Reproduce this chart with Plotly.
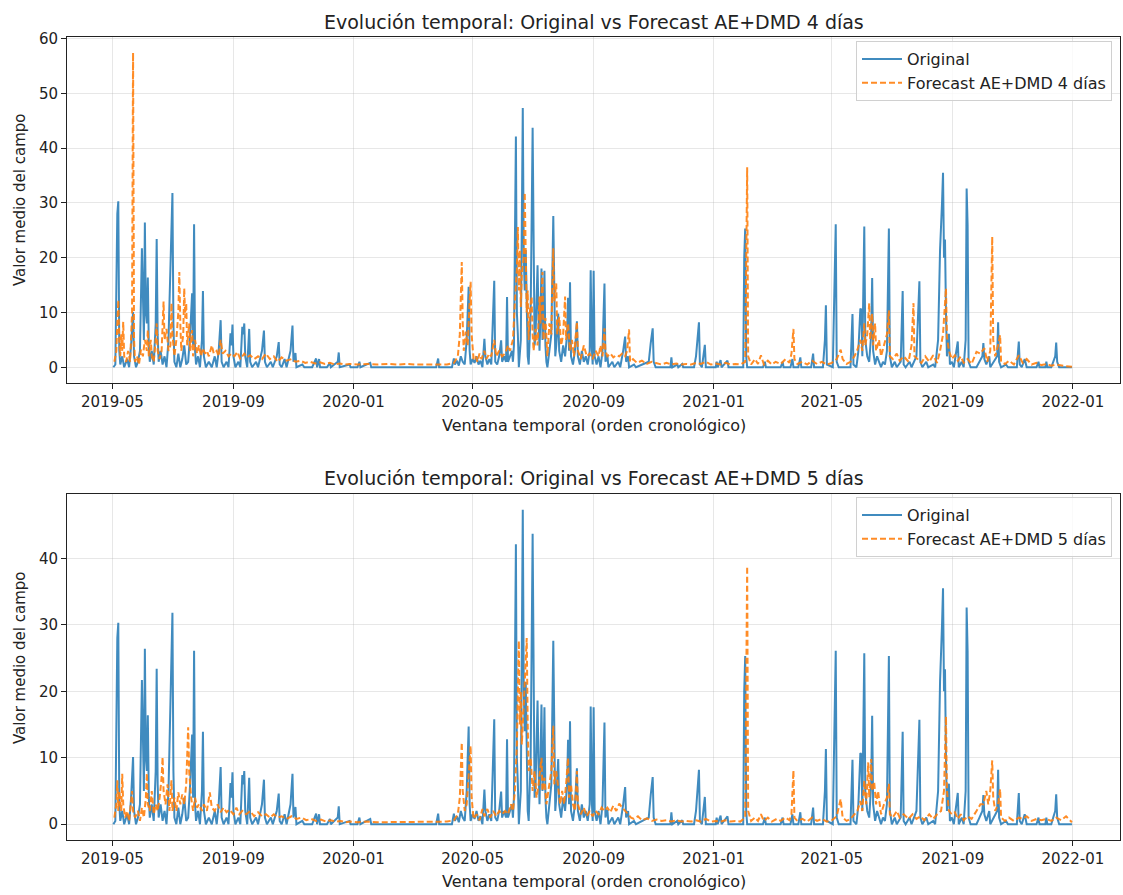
import plotly.graph_objects as go

# Serie original (valor medio del campo), fechas y valores
ORIGINAL = [
    ("2019-05-02", 0), ("2019-05-04", 0.5), ("2019-05-06", 28), ("2019-05-07", 30.3), ("2019-05-08", 3),
    ("2019-05-09", 0.5), ("2019-05-11", 2), ("2019-05-13", 0), ("2019-05-16", 1.5), ("2019-05-18", 0),
    ("2019-05-20", 4), ("2019-05-22", 10.1), ("2019-05-23", 2), ("2019-05-25", 0), ("2019-05-27", 1),
    ("2019-05-29", 3), ("2019-05-31", 21.7), ("2019-06-01", 14), ("2019-06-02", 5), ("2019-06-03", 26.4),
    ("2019-06-04", 10), ("2019-06-05", 8), ("2019-06-06", 16.4), ("2019-06-07", 4), ("2019-06-08", 1),
    ("2019-06-10", 3), ("2019-06-12", 0.5), ("2019-06-14", 8), ("2019-06-15", 23.4), ("2019-06-16", 6),
    ("2019-06-17", 1), ("2019-06-19", 3), ("2019-06-21", 0.5), ("2019-06-23", 2), ("2019-06-25", 0),
    ("2019-06-27", 5), ("2019-06-29", 20), ("2019-06-30", 29.9), ("2019-07-01", 31.8), ("2019-07-02", 8),
    ("2019-07-03", 1), ("2019-07-05", 0), ("2019-07-07", 2.5), ("2019-07-09", 0), ("2019-07-11", 1.5),
    ("2019-07-13", 4), ("2019-07-15", 0.5), ("2019-07-17", 1), ("2019-07-19", 6), ("2019-07-21", 13.5),
    ("2019-07-22", 4), ("2019-07-23", 26.1), ("2019-07-24", 3), ("2019-07-25", 0.5), ("2019-07-27", 2),
    ("2019-07-29", 0), ("2019-07-31", 5), ("2019-08-01", 13.9), ("2019-08-02", 2), ("2019-08-04", 0),
    ("2019-08-07", 1), ("2019-08-10", 0), ("2019-08-13", 2), ("2019-08-15", 0), ("2019-08-17", 3),
    ("2019-08-19", 8.6), ("2019-08-20", 1), ("2019-08-22", 0), ("2019-08-25", 1), ("2019-08-27", 0),
    ("2019-08-29", 6.2), ("2019-08-30", 4), ("2019-08-31", 7.8), ("2019-09-01", 2), ("2019-09-03", 0),
    ("2019-09-06", 1), ("2019-09-08", 0), ("2019-09-10", 7.4), ("2019-09-11", 6), ("2019-09-12", 8.0),
    ("2019-09-13", 2), ("2019-09-15", 0), ("2019-09-16", 3), ("2019-09-17", 7.0), ("2019-09-18", 1),
    ("2019-09-20", 0), ("2019-09-24", 1), ("2019-09-26", 0), ("2019-09-30", 3), ("2019-10-02", 6.7),
    ("2019-10-03", 1), ("2019-10-05", 0), ("2019-10-09", 1), ("2019-10-11", 0), ("2019-10-15", 2),
    ("2019-10-17", 4.6), ("2019-10-18", 0.5), ("2019-10-20", 0), ("2019-10-23", 1.5), ("2019-10-25", 0),
    ("2019-10-29", 3), ("2019-10-31", 7.6), ("2019-11-01", 1), ("2019-11-03", 2.6), ("2019-11-04", 0),
    ("2019-11-10", 0.5), ("2019-11-12", 0), ("2019-11-20", 0), ("2019-11-24", 1.6), ("2019-11-25", 0),
    ("2019-11-27", 1.5), ("2019-11-28", 0), ("2019-12-05", 0), ("2019-12-08", 0.8), ("2019-12-09", 0),
    ("2019-12-16", 1), ("2019-12-17", 2.7), ("2019-12-18", 0), ("2019-12-28", 0.5), ("2019-12-29", 0),
    ("2020-01-05", 0), ("2020-01-07", 1.0), ("2020-01-08", 0), ("2020-01-18", 0.8), ("2020-01-19", 0),
    ("2020-03-25", 0), ("2020-03-27", 1.6), ("2020-03-28", 0), ("2020-04-10", 0), ("2020-04-12", 1.6),
    ("2020-04-13", 0.5), ("2020-04-15", 1.2), ("2020-04-17", 0.3), ("2020-04-19", 2), ("2020-04-21", 1),
    ("2020-04-23", 0.5), ("2020-04-25", 5), ("2020-04-27", 14.7), ("2020-04-28", 3), ("2020-04-29", 0.5),
    ("2020-05-01", 1.5), ("2020-05-03", 0.8), ("2020-05-05", 2), ("2020-05-07", 0.5), ("2020-05-09", 1.2),
    ("2020-05-11", 0), ("2020-05-13", 5.2), ("2020-05-14", 2), ("2020-05-16", 0.5), ("2020-05-18", 1.5),
    ("2020-05-20", 0.5), ("2020-05-23", 15.8), ("2020-05-24", 1), ("2020-05-26", 0.5), ("2020-05-28", 2),
    ("2020-05-30", 4.9), ("2020-05-31", 1), ("2020-06-02", 2), ("2020-06-04", 1), ("2020-06-05", 12.8),
    ("2020-06-06", 1), ("2020-06-08", 2), ("2020-06-10", 3), ("2020-06-11", 1), ("2020-06-12", 4),
    ("2020-06-14", 42.1), ("2020-06-15", 10), ("2020-06-16", 6), ("2020-06-17", 0), ("2020-06-19", 5),
    ("2020-06-21", 47.3), ("2020-06-22", 20), ("2020-06-23", 14), ("2020-06-24", 21.4), ("2020-06-25", 8),
    ("2020-06-26", 2), ("2020-06-27", 0.5), ("2020-06-28", 5), ("2020-06-29", 10), ("2020-07-01", 43.7),
    ("2020-07-02", 12), ("2020-07-03", 4), ("2020-07-04", 6), ("2020-07-06", 18.6), ("2020-07-07", 9),
    ("2020-07-08", 3), ("2020-07-09", 10), ("2020-07-10", 18.0), ("2020-07-11", 5), ("2020-07-12", 8),
    ("2020-07-13", 17.6), ("2020-07-14", 4), ("2020-07-15", 1), ("2020-07-16", 0), ("2020-07-18", 3),
    ("2020-07-20", 6), ("2020-07-22", 27.6), ("2020-07-23", 8), ("2020-07-24", 2), ("2020-07-25", 4),
    ("2020-07-27", 9.8), ("2020-07-28", 3), ("2020-07-30", 1), ("2020-08-01", 4), ("2020-08-03", 2),
    ("2020-08-05", 6), ("2020-08-06", 12.7), ("2020-08-07", 3), ("2020-08-08", 15.5), ("2020-08-09", 2),
    ("2020-08-11", 0.5), ("2020-08-13", 3), ("2020-08-15", 8.4), ("2020-08-16", 2), ("2020-08-18", 0.5),
    ("2020-08-20", 3), ("2020-08-22", 1), ("2020-08-24", 2), ("2020-08-26", 0.5), ("2020-08-28", 3),
    ("2020-08-29", 17.7), ("2020-08-30", 4), ("2020-08-31", 0.5), ("2020-09-01", 17.6), ("2020-09-02", 2),
    ("2020-09-04", 0.5), ("2020-09-06", 2), ("2020-09-08", 0), ("2020-09-10", 3), ("2020-09-12", 15.3),
    ("2020-09-13", 1), ("2020-09-15", 2.2), ("2020-09-16", 0), ("2020-09-20", 1), ("2020-09-22", 0),
    ("2020-09-26", 1), ("2020-09-28", 0), ("2020-10-01", 3), ("2020-10-03", 5.6), ("2020-10-04", 1),
    ("2020-10-06", 2), ("2020-10-07", 0), ("2020-10-12", 0.5), ("2020-10-14", 0), ("2020-10-27", 1),
    ("2020-10-29", 4.4), ("2020-10-31", 7.1), ("2020-11-01", 1), ("2020-11-03", 0), ("2020-11-18", 0),
    ("2020-11-19", 1.8), ("2020-11-20", 0), ("2020-11-25", 0.5), ("2020-11-26", 0), ("2020-11-30", 0.6),
    ("2020-12-01", 0), ("2020-12-12", 0), ("2020-12-14", 2), ("2020-12-17", 8.2), ("2020-12-18", 0.5),
    ("2020-12-20", 0), ("2020-12-23", 4.1), ("2020-12-24", 0), ("2021-01-03", 0), ("2021-01-04", 1),
    ("2021-01-05", 0), ("2021-01-08", 1.3), ("2021-01-09", 0), ("2021-01-15", 1.2), ("2021-01-16", 0),
    ("2021-01-31", 0), ("2021-02-01", 20), ("2021-02-02", 25.3), ("2021-02-03", 2), ("2021-02-04", 0),
    ("2021-02-20", 0), ("2021-02-22", 1), ("2021-02-23", 0), ("2021-03-10", 0), ("2021-03-12", 1),
    ("2021-03-13", 0), ("2021-03-20", 0), ("2021-03-22", 1.5), ("2021-03-23", 0), ("2021-03-28", 0),
    ("2021-03-30", 1.8), ("2021-03-31", 0), ("2021-04-10", 0), ("2021-04-12", 2.5), ("2021-04-13", 0),
    ("2021-04-22", 0), ("2021-04-24", 5), ("2021-04-25", 11.3), ("2021-04-26", 0.5), ("2021-05-02", 0),
    ("2021-05-05", 26.1), ("2021-05-06", 1), ("2021-05-08", 0), ("2021-05-20", 0), ("2021-05-22", 9.7),
    ("2021-05-23", 0.5), ("2021-05-26", 0), ("2021-05-28", 3), ("2021-05-30", 10.7), ("2021-05-31", 10.5),
    ("2021-06-01", 2), ("2021-06-03", 25.7), ("2021-06-04", 5), ("2021-06-06", 2), ("2021-06-08", 1),
    ("2021-06-10", 6), ("2021-06-11", 16.3), ("2021-06-12", 3), ("2021-06-14", 0.5), ("2021-06-16", 2),
    ("2021-06-18", 1), ("2021-06-20", 0), ("2021-06-22", 1), ("2021-06-24", 0.5), ("2021-06-26", 3),
    ("2021-06-28", 25.3), ("2021-06-29", 2), ("2021-07-01", 0), ("2021-07-04", 1), ("2021-07-06", 0),
    ("2021-07-10", 1), ("2021-07-12", 13.9), ("2021-07-13", 0.5), ("2021-07-15", 0), ("2021-07-19", 1),
    ("2021-07-21", 0), ("2021-07-26", 2), ("2021-07-29", 15.7), ("2021-07-30", 1), ("2021-08-01", 0),
    ("2021-08-05", 1), ("2021-08-07", 0), ("2021-08-12", 0.5), ("2021-08-14", 0), ("2021-08-17", 5),
    ("2021-08-19", 21.5), ("2021-08-21", 30), ("2021-08-22", 35.5), ("2021-08-23", 20), ("2021-08-24", 23.3),
    ("2021-08-25", 10), ("2021-08-26", 2), ("2021-08-28", 6.1), ("2021-08-29", 0.5), ("2021-08-31", 1),
    ("2021-09-02", 0), ("2021-09-06", 4.7), ("2021-09-07", 0), ("2021-09-10", 1), ("2021-09-12", 0),
    ("2021-09-14", 5), ("2021-09-15", 32.6), ("2021-09-16", 26), ("2021-09-17", 1), ("2021-09-19", 0),
    ("2021-09-25", 0), ("2021-09-28", 1), ("2021-10-01", 2), ("2021-10-02", 4.4), ("2021-10-03", 1.5),
    ("2021-10-05", 0.5), ("2021-10-08", 2), ("2021-10-09", 0), ("2021-10-16", 2), ("2021-10-17", 8.2),
    ("2021-10-18", 1), ("2021-10-20", 0), ("2021-10-25", 0.5), ("2021-10-27", 0), ("2021-11-05", 0),
    ("2021-11-07", 4.7), ("2021-11-08", 0.5), ("2021-11-10", 0), ("2021-11-13", 1.5), ("2021-11-15", 0),
    ("2021-11-25", 0), ("2021-11-27", 1), ("2021-11-28", 0), ("2021-12-04", 0), ("2021-12-05", 1),
    ("2021-12-06", 0), ("2021-12-10", 0), ("2021-12-12", 1), ("2021-12-14", 2), ("2021-12-15", 4.5),
    ("2021-12-16", 1), ("2021-12-18", 0), ("2021-12-31", 0),
]

# Predicción AE+DMD con horizonte de 4 días
FORECAST_4D = [
    ("2019-05-03", 1), ("2019-05-05", 3), ("2019-05-06", 8), ("2019-05-07", 12.3), ("2019-05-08", 5),
    ("2019-05-09", 2), ("2019-05-10", 6), ("2019-05-11", 3), ("2019-05-12", 8.3), ("2019-05-13", 2),
    ("2019-05-15", 1), ("2019-05-17", 3), ("2019-05-19", 1), ("2019-05-20", 6), ("2019-05-21", 10.1),
    ("2019-05-22", 57.4), ("2019-05-23", 5), ("2019-05-24", 1), ("2019-05-26", 2), ("2019-05-28", 0.5),
    ("2019-05-30", 3.2), ("2019-06-01", 2), ("2019-06-03", 5), ("2019-06-05", 3), ("2019-06-06", 6.8),
    ("2019-06-07", 2), ("2019-06-09", 5), ("2019-06-10", 2), ("2019-06-12", 1), ("2019-06-14", 5),
    ("2019-06-15", 8), ("2019-06-16", 3), ("2019-06-18", 1.5), ("2019-06-20", 3), ("2019-06-22", 12),
    ("2019-06-23", 5), ("2019-06-25", 7), ("2019-06-27", 3), ("2019-06-29", 4), ("2019-06-30", 11.7),
    ("2019-07-01", 6), ("2019-07-03", 2), ("2019-07-05", 5), ("2019-07-07", 10), ("2019-07-08", 17.4),
    ("2019-07-09", 8), ("2019-07-10", 3), ("2019-07-12", 6), ("2019-07-13", 14.4), ("2019-07-14", 9),
    ("2019-07-15", 11.7), ("2019-07-16", 4), ("2019-07-18", 8), ("2019-07-19", 3), ("2019-07-21", 6.8),
    ("2019-07-22", 2), ("2019-07-24", 5), ("2019-07-26", 2.5), ("2019-07-28", 4), ("2019-07-30", 2),
    ("2019-08-01", 3.5), ("2019-08-03", 2.5), ("2019-08-05", 3), ("2019-08-07", 2), ("2019-08-10", 4),
    ("2019-08-12", 2.5), ("2019-08-15", 3), ("2019-08-17", 2), ("2019-08-19", 5), ("2019-08-21", 2.5),
    ("2019-08-24", 3), ("2019-08-27", 2), ("2019-08-30", 2.5), ("2019-09-02", 2), ("2019-09-05", 2.8),
    ("2019-09-08", 1.5), ("2019-09-12", 2.5), ("2019-09-15", 1.8), ("2019-09-18", 2.2), ("2019-09-22", 1.5),
    ("2019-09-26", 2), ("2019-09-30", 1.5), ("2019-10-04", 2.5), ("2019-10-08", 1.5), ("2019-10-12", 2),
    ("2019-10-16", 1), ("2019-10-20", 1.8), ("2019-10-25", 1.2), ("2019-10-30", 1.5), ("2019-11-03", 1),
    ("2019-11-08", 1.2), ("2019-11-13", 0.8), ("2019-11-18", 1), ("2019-11-23", 0.7), ("2019-11-28", 0.9),
    ("2019-12-03", 0.6), ("2019-12-08", 0.8), ("2019-12-13", 0.5), ("2019-12-18", 0.7), ("2019-12-23", 0.5),
    ("2019-12-28", 0.6), ("2020-01-05", 0.5), ("2020-01-15", 0.6), ("2020-01-25", 0.5), ("2020-02-05", 0.6),
    ("2020-02-15", 0.5), ("2020-02-25", 0.6), ("2020-03-05", 0.5), ("2020-03-15", 0.5), ("2020-03-25", 0.6),
    ("2020-04-05", 0.5), ("2020-04-12", 0.8), ("2020-04-16", 2), ("2020-04-18", 6), ("2020-04-20", 19.2),
    ("2020-04-21", 8), ("2020-04-22", 3), ("2020-04-24", 6.5), ("2020-04-26", 4), ("2020-04-28", 12),
    ("2020-04-29", 15.6), ("2020-04-30", 6), ("2020-05-02", 1.5), ("2020-05-04", 2), ("2020-05-06", 1),
    ("2020-05-08", 2.5), ("2020-05-10", 1.5), ("2020-05-13", 3), ("2020-05-15", 1.5), ("2020-05-18", 2.5),
    ("2020-05-20", 2), ("2020-05-23", 5), ("2020-05-25", 2), ("2020-05-28", 3), ("2020-05-31", 2),
    ("2020-06-03", 2.5), ("2020-06-06", 4), ("2020-06-08", 3), ("2020-06-11", 5), ("2020-06-13", 12),
    ("2020-06-15", 18), ("2020-06-16", 25.6), ("2020-06-17", 14), ("2020-06-18", 21.4), ("2020-06-19", 11),
    ("2020-06-20", 17), ("2020-06-22", 20), ("2020-06-23", 31.9), ("2020-06-24", 19.5), ("2020-06-25", 10),
    ("2020-06-26", 14), ("2020-06-27", 5), ("2020-06-28", 9.8), ("2020-06-30", 12.9), ("2020-07-01", 6),
    ("2020-07-02", 3), ("2020-07-04", 7), ("2020-07-06", 4), ("2020-07-08", 12.9), ("2020-07-09", 8),
    ("2020-07-11", 17.4), ("2020-07-12", 5), ("2020-07-14", 9), ("2020-07-16", 2), ("2020-07-18", 8),
    ("2020-07-20", 6), ("2020-07-22", 21.7), ("2020-07-23", 12), ("2020-07-25", 15.3), ("2020-07-26", 6),
    ("2020-07-28", 9.2), ("2020-07-30", 4), ("2020-08-01", 6), ("2020-08-03", 12.9), ("2020-08-04", 5),
    ("2020-08-06", 8), ("2020-08-08", 3), ("2020-08-10", 5), ("2020-08-12", 2), ("2020-08-15", 8.3),
    ("2020-08-16", 3), ("2020-08-19", 1.5), ("2020-08-22", 4), ("2020-08-25", 2), ("2020-08-28", 2.5),
    ("2020-08-31", 1.5), ("2020-09-03", 3), ("2020-09-06", 2), ("2020-09-08", 4), ("2020-09-10", 2),
    ("2020-09-12", 7.1), ("2020-09-13", 3), ("2020-09-15", 2), ("2020-09-18", 2.5), ("2020-09-21", 1.8),
    ("2020-09-24", 2.2), ("2020-09-27", 2), ("2020-09-30", 2.5), ("2020-10-03", 2), ("2020-10-05", 3),
    ("2020-10-07", 6.9), ("2020-10-08", 1), ("2020-10-11", 1.5), ("2020-10-15", 0.8), ("2020-10-20", 1.2),
    ("2020-10-25", 0.6), ("2020-10-30", 1), ("2020-11-04", 0.7), ("2020-11-09", 0.5), ("2020-11-14", 0.8),
    ("2020-11-19", 0.5), ("2020-11-24", 0.7), ("2020-11-29", 0.5), ("2020-12-04", 0.6), ("2020-12-09", 0.5),
    ("2020-12-14", 0.8), ("2020-12-19", 0.6), ("2020-12-24", 1), ("2020-12-29", 0.5), ("2021-01-03", 0.7),
    ("2021-01-08", 0.5), ("2021-01-13", 0.8), ("2021-01-18", 0.5), ("2021-01-23", 0.6), ("2021-01-28", 0.5),
    ("2021-02-02", 1), ("2021-02-04", 36.5), ("2021-02-05", 2), ("2021-02-08", 0.5), ("2021-02-12", 1.5),
    ("2021-02-15", 0.6), ("2021-02-18", 2.2), ("2021-02-21", 0.5), ("2021-02-25", 1.2), ("2021-03-01", 0.5),
    ("2021-03-05", 1), ("2021-03-10", 0.6), ("2021-03-15", 1.5), ("2021-03-19", 0.8), ("2021-03-21", 2.5),
    ("2021-03-23", 7.0), ("2021-03-24", 1.5), ("2021-03-27", 0.6), ("2021-04-01", 1), ("2021-04-06", 0.5),
    ("2021-04-11", 1.2), ("2021-04-16", 0.6), ("2021-04-21", 1), ("2021-04-26", 0.5), ("2021-05-01", 0.8),
    ("2021-05-06", 1.5), ("2021-05-10", 3.2), ("2021-05-12", 1.5), ("2021-05-16", 0.6), ("2021-05-20", 1),
    ("2021-05-24", 2), ("2021-05-27", 3.2), ("2021-05-30", 5), ("2021-06-01", 3), ("2021-06-03", 8),
    ("2021-06-04", 4), ("2021-06-06", 6), ("2021-06-08", 11.7), ("2021-06-09", 5), ("2021-06-11", 9.8),
    ("2021-06-12", 4), ("2021-06-14", 8), ("2021-06-15", 3), ("2021-06-18", 5), ("2021-06-20", 2),
    ("2021-06-23", 4), ("2021-06-26", 6), ("2021-06-28", 10.4), ("2021-06-29", 2), ("2021-07-02", 1.5),
    ("2021-07-06", 2.5), ("2021-07-09", 1.2), ("2021-07-13", 2), ("2021-07-18", 1), ("2021-07-21", 4),
    ("2021-07-23", 11.7), ("2021-07-24", 2), ("2021-07-27", 1.5), ("2021-07-31", 0.8), ("2021-08-04", 2),
    ("2021-08-08", 1), ("2021-08-12", 2.2), ("2021-08-16", 0.8), ("2021-08-19", 3), ("2021-08-22", 6),
    ("2021-08-25", 14.4), ("2021-08-26", 5.6), ("2021-08-28", 3), ("2021-08-31", 1.5), ("2021-09-03", 2.2),
    ("2021-09-06", 1.2), ("2021-09-09", 2), ("2021-09-12", 0.8), ("2021-09-16", 1.5), ("2021-09-20", 0.6),
    ("2021-09-25", 2.8), ("2021-09-29", 2.5), ("2021-10-03", 3.5), ("2021-10-06", 1), ("2021-10-09", 3),
    ("2021-10-11", 23.8), ("2021-10-12", 5), ("2021-10-14", 2), ("2021-10-17", 4), ("2021-10-19", 5.9),
    ("2021-10-20", 1), ("2021-10-24", 0.6), ("2021-10-28", 1.2), ("2021-11-02", 0.5), ("2021-11-07", 2.2),
    ("2021-11-11", 0.8), ("2021-11-15", 1.5), ("2021-11-20", 0.5), ("2021-11-25", 0.8), ("2021-11-30", 0.4),
    ("2021-12-05", 0.6), ("2021-12-10", 0.3), ("2021-12-15", 0.5), ("2021-12-20", 0.3), ("2021-12-25", 0.2),
    ("2021-12-31", 0.1),
]

# Predicción AE+DMD con horizonte de 5 días
FORECAST_5D = [
    ("2019-05-03", 1), ("2019-05-05", 3), ("2019-05-06", 6.6), ("2019-05-07", 2), ("2019-05-08", 5),
    ("2019-05-10", 2), ("2019-05-11", 7.6), ("2019-05-12", 3), ("2019-05-14", 1), ("2019-05-16", 2),
    ("2019-05-18", 0.5), ("2019-05-20", 3), ("2019-05-21", 5), ("2019-05-22", 2), ("2019-05-24", 1),
    ("2019-05-27", 2), ("2019-05-29", 0.5), ("2019-05-31", 2.5), ("2019-06-02", 1), ("2019-06-04", 4),
    ("2019-06-05", 7.7), ("2019-06-06", 3), ("2019-06-08", 2), ("2019-06-10", 5), ("2019-06-12", 1.5),
    ("2019-06-14", 3), ("2019-06-16", 2), ("2019-06-18", 4), ("2019-06-20", 7), ("2019-06-21", 10.1),
    ("2019-06-22", 5), ("2019-06-24", 3), ("2019-06-26", 6), ("2019-06-28", 2), ("2019-06-30", 6.6),
    ("2019-07-01", 2), ("2019-07-03", 4), ("2019-07-05", 2), ("2019-07-07", 4.8), ("2019-07-09", 3),
    ("2019-07-11", 4.5), ("2019-07-13", 3), ("2019-07-15", 6), ("2019-07-17", 14.6), ("2019-07-18", 8),
    ("2019-07-20", 4), ("2019-07-22", 2), ("2019-07-24", 4), ("2019-07-26", 2.5), ("2019-07-28", 3),
    ("2019-07-31", 2), ("2019-08-02", 3), ("2019-08-05", 2), ("2019-08-08", 4.8), ("2019-08-10", 2.5),
    ("2019-08-13", 2), ("2019-08-16", 3), ("2019-08-19", 1.8), ("2019-08-22", 2.5), ("2019-08-25", 1.8),
    ("2019-08-28", 2.2), ("2019-09-01", 1.5), ("2019-09-04", 2.5), ("2019-09-07", 1.5), ("2019-09-10", 2),
    ("2019-09-14", 1.5), ("2019-09-18", 2), ("2019-09-22", 1.2), ("2019-09-26", 1.8), ("2019-09-30", 1.2),
    ("2019-10-04", 1.5), ("2019-10-08", 1), ("2019-10-12", 1.5), ("2019-10-16", 1), ("2019-10-20", 1.2),
    ("2019-10-25", 0.8), ("2019-10-30", 1.2), ("2019-11-04", 0.8), ("2019-11-09", 1), ("2019-11-14", 0.6),
    ("2019-11-19", 0.8), ("2019-11-24", 0.5), ("2019-11-29", 0.7), ("2019-12-04", 0.4), ("2019-12-09", 0.6),
    ("2019-12-14", 0.4), ("2019-12-19", 0.5), ("2019-12-24", 0.3), ("2019-12-29", 0.4), ("2020-01-05", 0.3),
    ("2020-01-15", 0.4), ("2020-01-25", 0.3), ("2020-02-05", 0.3), ("2020-02-15", 0.4), ("2020-02-25", 0.3),
    ("2020-03-05", 0.3), ("2020-03-15", 0.4), ("2020-03-25", 0.3), ("2020-04-05", 0.4), ("2020-04-12", 0.6),
    ("2020-04-16", 1.5), ("2020-04-18", 4), ("2020-04-20", 12.3), ("2020-04-21", 5), ("2020-04-23", 2),
    ("2020-04-25", 3), ("2020-04-27", 8), ("2020-04-29", 11.8), ("2020-04-30", 4), ("2020-05-02", 0.8),
    ("2020-05-05", 1.5), ("2020-05-08", 0.6), ("2020-05-11", 2.3), ("2020-05-13", 1.2), ("2020-05-16", 2.3),
    ("2020-05-19", 1), ("2020-05-22", 2), ("2020-05-25", 1.2), ("2020-05-28", 2), ("2020-05-31", 1.5),
    ("2020-06-03", 2), ("2020-06-06", 1.5), ("2020-06-09", 3), ("2020-06-11", 2), ("2020-06-13", 5),
    ("2020-06-15", 12), ("2020-06-17", 27.6), ("2020-06-18", 15), ("2020-06-19", 20), ("2020-06-20", 12),
    ("2020-06-22", 18), ("2020-06-24", 24), ("2020-06-25", 28.0), ("2020-06-26", 15.1), ("2020-06-27", 8),
    ("2020-06-29", 10), ("2020-07-01", 5), ("2020-07-03", 8), ("2020-07-05", 4), ("2020-07-07", 6),
    ("2020-07-10", 10), ("2020-07-11", 5), ("2020-07-13", 7), ("2020-07-15", 3), ("2020-07-17", 5),
    ("2020-07-20", 8), ("2020-07-22", 14.8), ("2020-07-23", 6), ("2020-07-25", 8), ("2020-07-27", 5),
    ("2020-07-29", 3), ("2020-07-31", 5), ("2020-08-02", 3), ("2020-08-04", 6), ("2020-08-06", 10),
    ("2020-08-07", 4), ("2020-08-09", 6), ("2020-08-11", 3), ("2020-08-13", 2), ("2020-08-15", 8),
    ("2020-08-16", 3), ("2020-08-19", 1.5), ("2020-08-22", 2.5), ("2020-08-25", 1.2), ("2020-08-28", 2),
    ("2020-08-31", 1.2), ("2020-09-03", 2), ("2020-09-06", 1.5), ("2020-09-09", 2.5), ("2020-09-12", 2),
    ("2020-09-15", 2.5), ("2020-09-18", 1.8), ("2020-09-21", 2.8), ("2020-09-24", 2), ("2020-09-27", 3.1),
    ("2020-09-30", 2.5), ("2020-10-03", 2), ("2020-10-06", 1.5), ("2020-10-09", 1), ("2020-10-12", 0.8),
    ("2020-10-16", 1.2), ("2020-10-20", 0.6), ("2020-10-25", 0.9), ("2020-10-30", 0.5), ("2020-11-04", 0.7),
    ("2020-11-09", 0.5), ("2020-11-14", 0.6), ("2020-11-19", 0.4), ("2020-11-24", 0.6), ("2020-11-29", 0.4),
    ("2020-12-04", 0.5), ("2020-12-09", 0.4), ("2020-12-14", 0.6), ("2020-12-19", 0.4), ("2020-12-24", 0.8),
    ("2020-12-29", 0.4), ("2021-01-03", 0.5), ("2021-01-08", 0.4), ("2021-01-13", 0.6), ("2021-01-18", 0.4),
    ("2021-01-23", 0.5), ("2021-01-28", 0.4), ("2021-02-02", 1), ("2021-02-04", 38.8), ("2021-02-05", 2),
    ("2021-02-08", 0.5), ("2021-02-12", 1), ("2021-02-15", 0.5), ("2021-02-18", 1.5), ("2021-02-21", 0.5),
    ("2021-02-25", 1), ("2021-03-01", 0.4), ("2021-03-06", 0.8), ("2021-03-10", 0.5), ("2021-03-15", 1),
    ("2021-03-19", 0.6), ("2021-03-21", 1.5), ("2021-03-23", 8.1), ("2021-03-24", 1), ("2021-03-27", 0.5),
    ("2021-04-01", 0.8), ("2021-04-06", 0.4), ("2021-04-11", 1), ("2021-04-16", 0.5), ("2021-04-21", 0.8),
    ("2021-04-26", 0.4), ("2021-05-01", 0.6), ("2021-05-06", 1.2), ("2021-05-10", 3.8), ("2021-05-12", 1),
    ("2021-05-16", 0.5), ("2021-05-20", 0.8), ("2021-05-24", 1.5), ("2021-05-27", 2), ("2021-05-30", 3.5),
    ("2021-06-01", 2), ("2021-06-03", 6.6), ("2021-06-05", 3), ("2021-06-07", 9.3), ("2021-06-08", 4),
    ("2021-06-10", 9.8), ("2021-06-11", 5), ("2021-06-13", 6.4), ("2021-06-15", 3), ("2021-06-17", 5),
    ("2021-06-20", 1.5), ("2021-06-23", 3), ("2021-06-26", 4), ("2021-06-28", 6.1), ("2021-06-29", 1.5),
    ("2021-07-02", 1), ("2021-07-06", 2), ("2021-07-09", 1), ("2021-07-13", 1.5), ("2021-07-18", 0.8),
    ("2021-07-22", 1.5), ("2021-07-26", 0.8), ("2021-07-30", 1.2), ("2021-08-03", 0.6), ("2021-08-08", 1.5),
    ("2021-08-12", 0.8), ("2021-08-16", 1.5), ("2021-08-20", 2), ("2021-08-23", 5), ("2021-08-25", 16.2),
    ("2021-08-26", 5), ("2021-08-28", 2), ("2021-08-31", 1.5), ("2021-09-03", 1.8), ("2021-09-06", 0.8),
    ("2021-09-09", 1.5), ("2021-09-12", 0.6), ("2021-09-16", 1.2), ("2021-09-20", 0.8), ("2021-09-25", 2),
    ("2021-09-29", 3), ("2021-10-02", 3), ("2021-10-05", 5), ("2021-10-07", 3), ("2021-10-09", 5),
    ("2021-10-11", 9.6), ("2021-10-12", 4), ("2021-10-14", 2), ("2021-10-17", 3), ("2021-10-19", 5.3),
    ("2021-10-20", 1), ("2021-10-24", 0.5), ("2021-10-28", 1), ("2021-11-02", 0.5), ("2021-11-07", 1),
    ("2021-11-11", 0.8), ("2021-11-15", 1.2), ("2021-11-20", 0.5), ("2021-11-25", 0.8), ("2021-11-30", 0.6),
    ("2021-12-05", 0.8), ("2021-12-10", 0.5), ("2021-12-15", 1), ("2021-12-20", 0.6), ("2021-12-25", 1.2),
    ("2021-12-31", 0.3),
]

TITLES = [
    "Evolución temporal: Original vs Forecast AE+DMD 4 días",
    "Evolución temporal: Original vs Forecast AE+DMD 5 días",
]
FORECAST_NAMES = ["Forecast AE+DMD 4 días", "Forecast AE+DMD 5 días"]
X_LABEL = "Ventana temporal (orden cronológico)"
Y_LABEL = "Valor medio del campo"
TICK_DATES = ["2019-05-01", "2019-09-01", "2020-01-01", "2020-05-01", "2020-09-01",
              "2021-01-01", "2021-05-01", "2021-09-01", "2022-01-01"]
TICK_TEXT = ["2019-05", "2019-09", "2020-01", "2020-05", "2020-09",
             "2021-01", "2021-05", "2021-09", "2022-01"]

BLUE = "rgba(31,119,180,0.85)"
ORANGE = "rgba(255,127,14,0.9)"
FONT = "DejaVu Sans, sans-serif"
GRID = "rgba(176,176,176,0.3)"
TEXT = "#222"

W, H = 1123, 895
M_L, M_R, M_T, M_B = 67, 3, 37, 55
PLOT_H = H - M_T - M_B
PLOT_W = W - M_L - M_R


def py(px):
    """pixel row -> paper y"""
    return (H - M_B - px) / PLOT_H


def px_x(px):
    return (px - M_L) / PLOT_W


def unzip(pairs):
    return [d for d, _ in pairs], [v for _, v in pairs]


orig_x, orig_y = unzip(ORIGINAL)
f4_x, f4_y = unzip(FORECAST_4D)
f5_x, f5_y = unzip(FORECAST_5D)

fig = go.Figure()

panels = [("x", "y", f4_x, f4_y, "legend"), ("x2", "y2", f5_x, f5_y, "legend2")]
for i, (xa, ya, fx, fy, leg) in enumerate(panels):
    fig.add_trace(go.Scatter(x=orig_x, y=orig_y, mode="lines", name="Original",
                             line=dict(color=BLUE, width=2), xaxis=xa, yaxis=ya, legend=leg))
    fig.add_trace(go.Scatter(x=fx, y=fy, mode="lines", name=FORECAST_NAMES[i],
                             line=dict(color=ORANGE, width=2, dash="6px,3px"),
                             xaxis=xa, yaxis=ya, legend=leg))

axis_common = dict(showline=True, linecolor=TEXT, linewidth=1, mirror=True,
                   showgrid=True, gridcolor=GRID, gridwidth=1, zeroline=False,
                   ticks="outside", ticklen=5, tickcolor=TEXT,
                   tickfont=dict(family=FONT, size=15, color=TEXT))

x_range = ["2019-03-15 21:00", "2022-02-17 20:00"]
top_dom = [py(383), 1.0]
bot_dom = [0.0, py(494)]

legend_common = dict(xanchor="right", yanchor="top", itemwidth=40,
                     bgcolor="rgba(255,255,255,0.8)", bordercolor="#d0d0d0", borderwidth=1,
                     font=dict(family=FONT, size=16, color=TEXT), tracegroupgap=0)

fig.update_layout(
    width=W, height=H,
    margin=dict(l=M_L, r=M_R, t=M_T, b=M_B),
    paper_bgcolor="white", plot_bgcolor="white",
    font=dict(family=FONT, color=TEXT),
    xaxis=dict(axis_common, type="date", range=x_range, tickvals=TICK_DATES, ticktext=TICK_TEXT,
               anchor="y", domain=[0, 1]),
    yaxis=dict(axis_common, range=[-2.87, 60.27], tickvals=[0, 10, 20, 30, 40, 50, 60],
               anchor="x", domain=top_dom),
    xaxis2=dict(axis_common, type="date", range=x_range, tickvals=TICK_DATES, ticktext=TICK_TEXT,
                anchor="y2", domain=[0, 1]),
    yaxis2=dict(axis_common, range=[-2.37, 49.67], tickvals=[0, 10, 20, 30, 40],
                anchor="x2", domain=bot_dom),
    legend=dict(legend_common, x=px_x(1112), y=py(41)),
    legend2=dict(legend_common, x=px_x(1112), y=py(497)),
    showlegend=True,
)

ann = []
for title, ypx in zip(TITLES, [22, 478]):
    ann.append(dict(text=title, x=0.5, y=py(ypx), xref="paper", yref="paper",
                    xanchor="center", yanchor="middle", showarrow=False,
                    font=dict(family=FONT, size=19, color=TEXT)))
for ypx in [425, 881]:
    ann.append(dict(text=X_LABEL, x=0.5, y=py(ypx), xref="paper", yref="paper",
                    xanchor="center", yanchor="middle", showarrow=False,
                    font=dict(family=FONT, size=16, color=TEXT)))
for ypx in [200, 658]:
    ann.append(dict(text=Y_LABEL, x=px_x(20), y=py(ypx), xref="paper", yref="paper",
                    xanchor="center", yanchor="middle", showarrow=False, textangle=-90,
                    font=dict(family=FONT, size=15, color=TEXT)))
fig.update_layout(annotations=ann)

fig.write_html("out.html")
